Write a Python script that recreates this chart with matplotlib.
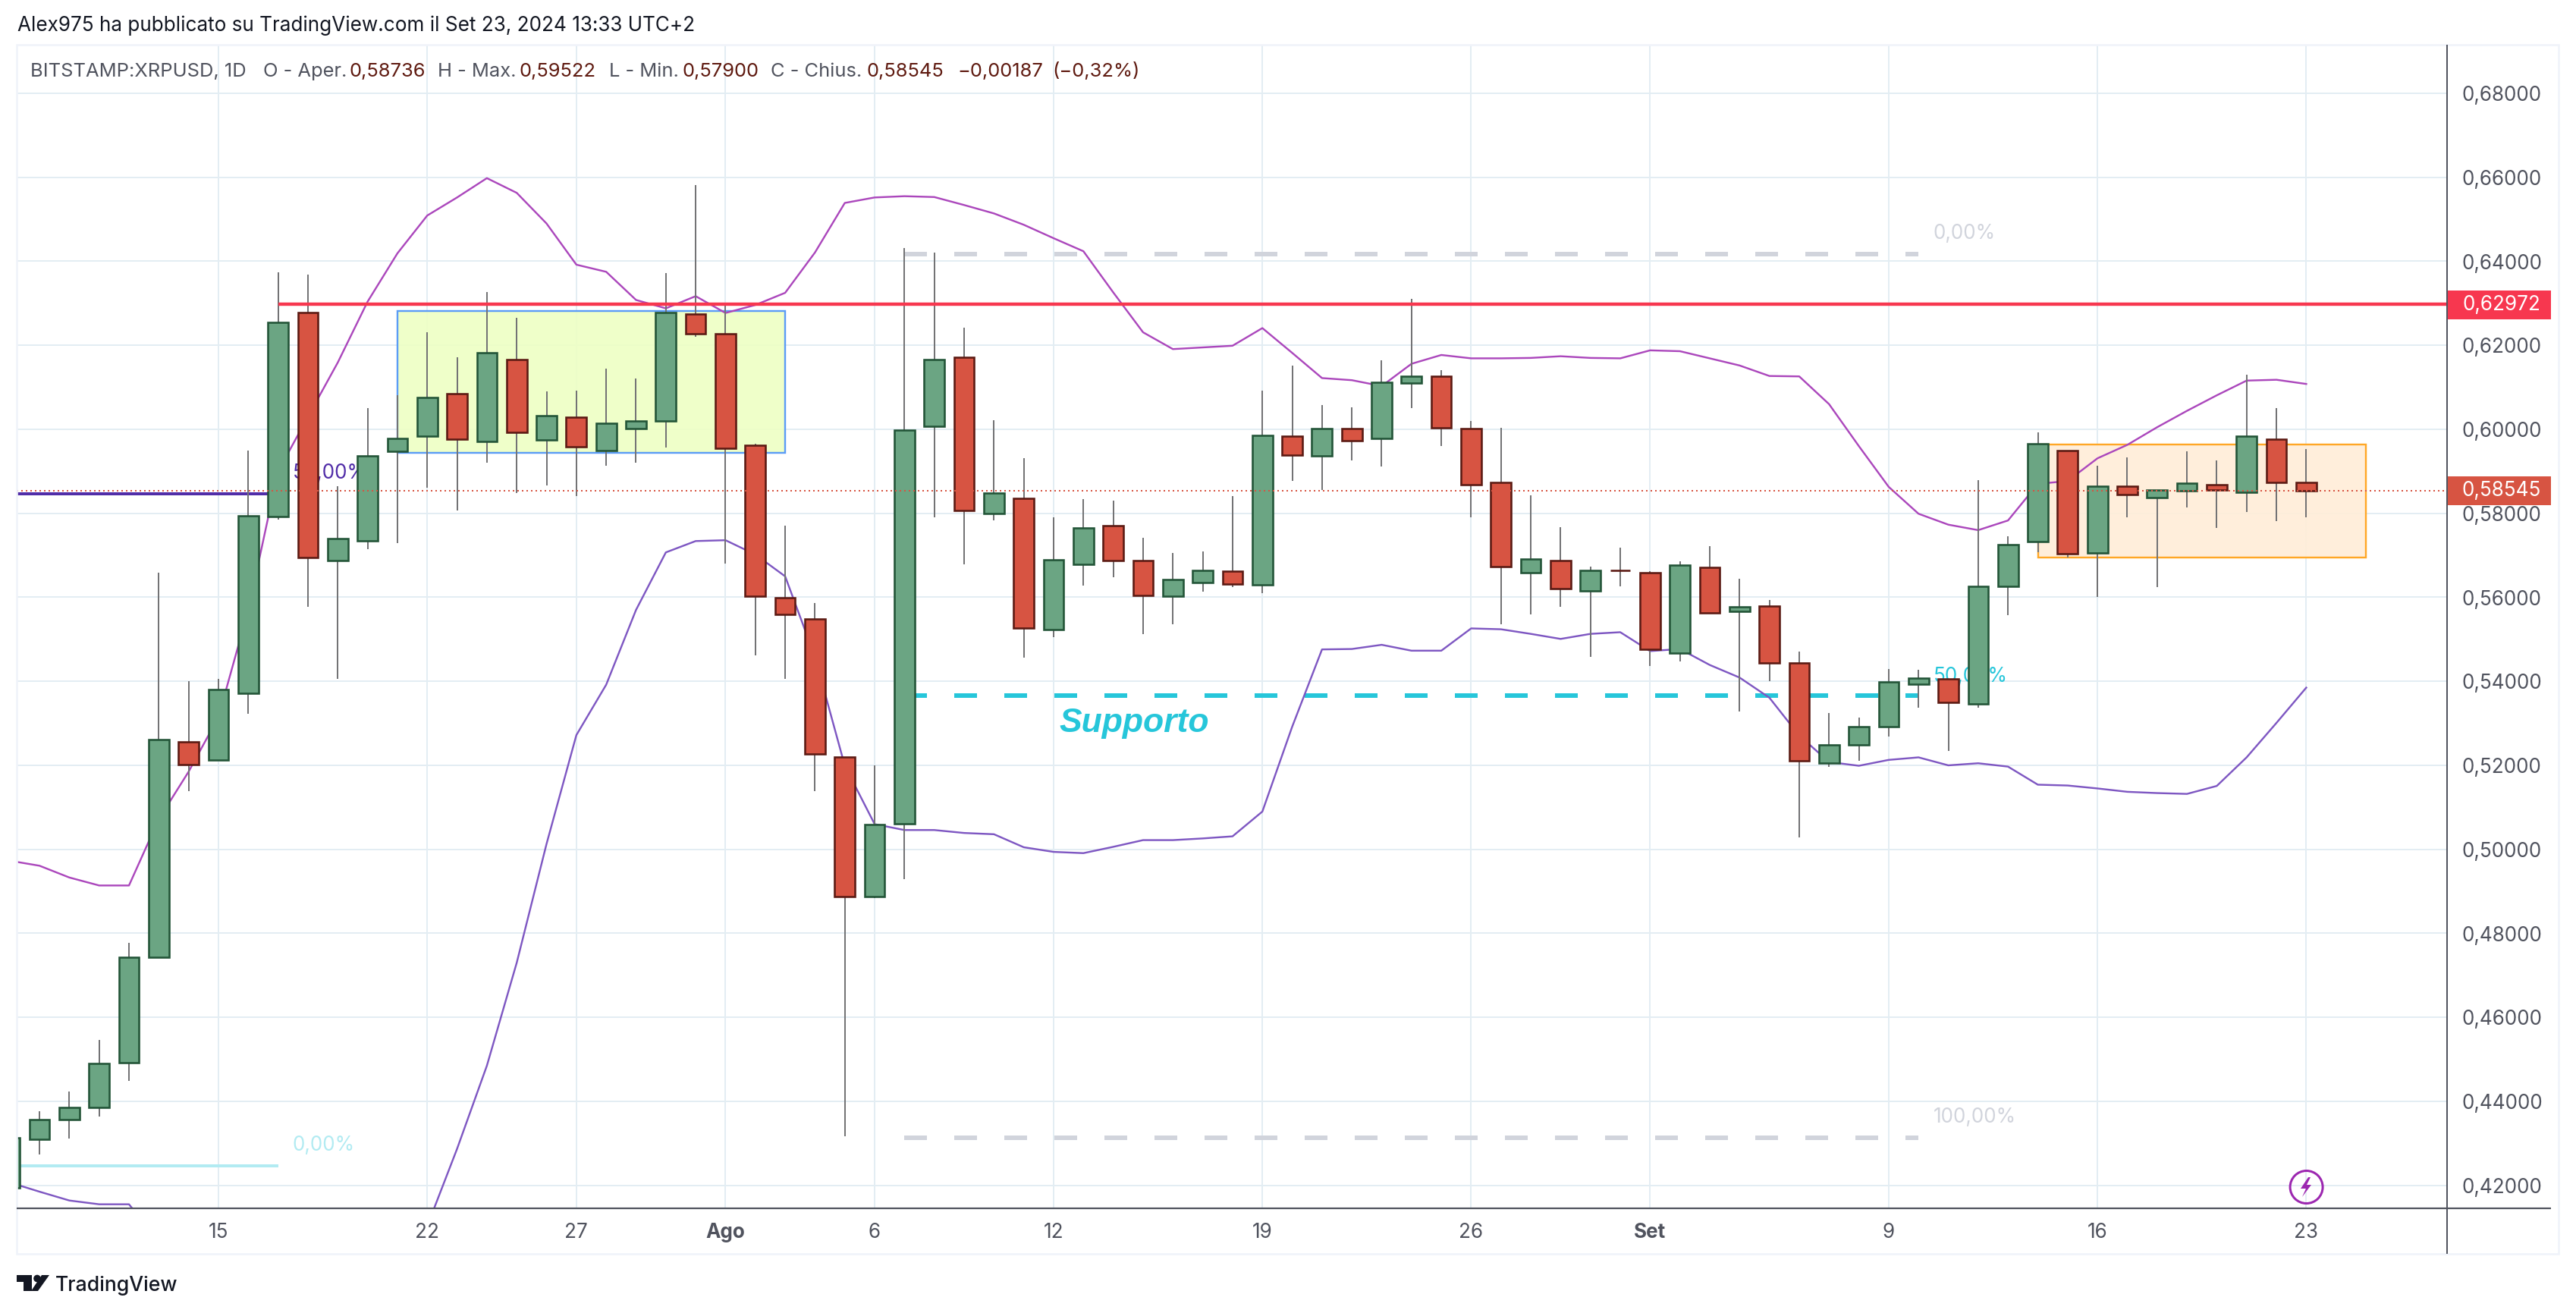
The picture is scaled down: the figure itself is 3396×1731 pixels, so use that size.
import matplotlib
matplotlib.use("Agg")
import matplotlib.pyplot as plt
from matplotlib.patches import Rectangle, Polygon, Circle
from matplotlib.colors import to_rgba
import numpy as np

plt.rcParams['font.family'] = ['Inter', 'DejaVu Sans']

# ---- data -----------------------------------------------------------------
first_day = -7  # 8 July, counted in days from 15 July
opens = [.4195,.4310,.4356,.4385,.4492,.4743,.5256,.5213,.5372,.5792,.6279,.5688,.5734,.5947,.5984,.6085,.5972,.6166,.5975,.6029,.5949,.6002,.6019,.6275,
         .6228,.5962,.5599,.5548,.5219,.4888,.5061,.6008,.6172,.5799,.5836,.5523,.5678,.5770,.5687,.5602,.5635,.5663,.5629,.5984,.5936,.6002,.5978,.6110,.6127,.6001,.5873,.5658,.5687,.5616,.5665,
         .5659,.5468,.5672,.5567,.5579,.5444,.5205,.5249,.5292,.5393,.5405,.5346,.5626,.5732,.5950,.5705,.5865,.5837,.5853,.5868,.5850,.5977,.58736]
highs = [.4314,.4377,.4423,.4546,.4777,.5659,.5401,.5405,.5950,.6374,.6368,.5865,.6050,.6081,.6231,.6171,.6326,.6265,.6090,.6092,.6144,.6121,.6372,.6581,
         .6298,.5965,.5770,.5587,.5219,.5200,.6432,.6421,.6242,.6021,.5931,.5790,.5834,.5830,.5742,.5706,.5709,.5841,.6092,.6151,.6057,.6053,.6164,.6310,.6140,.6019,.6003,.5843,.5767,.5673,.5718,
         .5662,.5686,.5722,.5645,.5594,.5470,.5325,.5314,.5430,.5428,.5405,.5879,.5745,.5992,.5950,.5913,.5933,.5856,.5947,.5926,.6130,.6050,.59522]
lows = [.4195,.4274,.4312,.4364,.4449,.4743,.5138,.5213,.5322,.5786,.5577,.5405,.5714,.5730,.5861,.5807,.5920,.5848,.5866,.5841,.5913,.5920,.5956,.6221,
        .5680,.5461,.5405,.5138,.4317,.4884,.4930,.5790,.5679,.5784,.5456,.5506,.5628,.5647,.5512,.5535,.5614,.5625,.5610,.5877,.5855,.5926,.5912,.6051,.5961,.5790,.5535,.5560,.5578,.5458,.5627,
        .5437,.5448,.5563,.5329,.5400,.5028,.5197,.5210,.5268,.5337,.5234,.5337,.5558,.5707,.5694,.5600,.5790,.5625,.5814,.5765,.5803,.5782,.57900]
closes = [.4314,.4356,.4386,.4491,.4743,.5261,.5202,.5381,.5794,.6254,.5695,.5740,.5937,.5979,.6076,.5977,.6183,.5993,.6033,.5959,.6014,.6020,.6279,.6228,
          .5954,.5603,.5559,.5227,.4888,.5059,.5999,.6167,.5806,.5849,.5527,.5689,.5765,.5687,.5605,.5643,.5665,.5631,.5986,.5938,.6002,.5973,.6112,.6127,.6003,.5868,.5674,.5692,.5620,.5665,.5664,
          .5476,.5676,.5563,.5577,.5444,.5211,.5249,.5293,.5399,.5407,.5350,.5626,.5726,.5965,.5703,.5865,.5844,.5856,.5872,.5855,.5984,.5873,.58545]
upper_band = [.4973,.4961,.4933,.4914,.4914,.5072,.5185,.5315,.5570,.5900,.6030,.6159,.6304,.6419,.6509,.6552,.6598,.6563,.6490,.6392,.6375,.6308,.6288,.6317,
              .6277,.6296,.6325,.6421,.6539,.6552,.6555,.6553,.6534,.6514,.6487,.6455,.6424,.6326,.6231,.6191,.6195,.6199,.6241,.6182,.6122,.6117,.6103,.6156,.6177,.6169,.6169,.6170,.6174,.6170,.6169,
              .6188,.6186,.6169,.6152,.6127,.6126,.6060,.5960,.5863,.5799,.5773,.5760,.5783,.5870,.5877,.5931,.5963,.6005,.6044,.6081,.6116,.6118,.6108]
lower_band = [.4207,.4185,.4164,.4155,.4155,.4067,.39,.375,.36,.35,.345,.35,.365,.388,.4103,.4287,.4485,.4730,.5013,.5272,.5392,.5570,.5707,.5734,
              .5736,.5702,.5650,.5458,.5199,.5060,.5046,.5046,.5039,.5036,.5005,.4994,.4991,.5006,.5022,.5022,.5026,.5031,.5090,.5292,.5476,.5477,.5487,.5473,.5473,.5526,.5524,.5513,.5501,.5513,.5517,
              .5472,.5477,.5439,.5409,.5361,.5271,.5208,.5199,.5213,.5219,.5200,.5205,.5197,.5154,.5152,.5145,.5137,.5134,.5132,.5151,.5219,.5301,.5385]

price_ticks = [.42,.44,.46,.48,.50,.52,.54,.56,.58,.60,.62,.64,.66,.68]
date_ticks = [0,7,12,17,22,28,35,42,48,56,63,70]
date_labels = ['15','22','27','Ago','6','12','19','26','Set','9','16','23']
bold_dates = ['Ago','Set']

last_price = .58545
resistance = .62972
support = .5367
fib_top, fib_bottom = .6418, .4313
fib_purple, fib_pale = .5847, .4247
green_box = (.5944, .6281)
orange_box = (.5694, .5964)

# ---- style ----------------------------------------------------------------
W, H = 3396, 1731
L, R, T, B = 22, 3226, 59, 1592.7
PX_PER_DAY, X0 = 39.32, 288
PX_PER_UNIT, Y68 = 5537.5, 123
C_GRID = '#e3edf3'; C_TXT = '#50535e'; C_VAL = '#5f1a10'
C_UP = '#6ba583'; C_DN = '#d75442'; C_UPE = '#225437'; C_DNE = '#5b1a13'
C_RED = '#f7374f'; C_CY = '#26c6da'
px = 72 / 200  # one pixel in points

fig = plt.figure(figsize=(W/200 + 1e-6, H/200 + 1e-6), dpi=200, facecolor='white')
ax = fig.add_axes([L/W, 1 - B/H, (R-L)/W, (B-T)/H])
ax.set_xlim((L-X0)/PX_PER_DAY, (R-X0)/PX_PER_DAY)
ax.set_ylim(.68-(B-Y68)/PX_PER_UNIT, .68+(Y68-T)/PX_PER_UNIT)

ax.set_yticks(price_ticks)
ax.set_yticklabels([f'{p:.5f}'.replace('.', ',') for p in price_ticks])
ax.yaxis.tick_right()
ax.set_xticks(date_ticks)
ax.set_xticklabels(date_labels)
ax.tick_params(axis='y', length=0, pad=19*px, labelsize=9.4, labelcolor=C_TXT)
ax.tick_params(axis='x', length=0, pad=19*px, labelsize=9.4, labelcolor=C_TXT)
for t in ax.get_xticklabels():
    if t.get_text() in bold_dates:
        t.set_fontweight('bold')
ax.grid(True, color=C_GRID, linewidth=2*px, zorder=0)
ax.set_axisbelow(True)
for s in ax.spines.values():
    s.set_visible(False)

days = np.arange(first_day, first_day + len(opens))
xmin, xmax = ax.get_xlim()

# boxes
def box(x0, x1, yr, face, edge):
    ax.add_patch(Rectangle((x0, yr[0]), x1-x0, yr[1]-yr[0], facecolor=to_rgba(face, .9),
                           edgecolor=edge, linewidth=2.4*px, zorder=1))
box(6, 19, green_box, '#eeffc4', '#5b9cf6')
box(61, 72, orange_box, '#ffedd8', '#ffa726')

# fib levels
for level, colour in [(fib_top, '#d1d4dc'), (fib_bottom, '#d1d4dc'), (support, C_CY)]:
    ax.plot([23, 57], [level]*2, color=colour, lw=6*px, dashes=(5, 6), dash_capstyle='butt', zorder=1.5)
ax.plot([xmin, 2], [fib_purple]*2, color='#512da8', lw=4*px, zorder=1.5, solid_capstyle='butt')
ax.plot([xmin, 2], [fib_pale]*2, color='#b2ebf2', lw=4*px, zorder=1.5, solid_capstyle='butt')
ax.text(2.49, .5895, '50,00%', color='#512da8', fontsize=9.4, va='center', zorder=1.5)
ax.text(2.49, .4295, '0,00%', color='#b2ebf2', fontsize=9.4, va='center', zorder=1.5)
ax.text(57.5, .6466, '0,00%', color='#d1d4dc', fontsize=9.4, va='center', zorder=1.5)
ax.text(57.5, .4362, '100,00%', color='#d1d4dc', fontsize=9.4, va='center', zorder=1.5)
ax.text(57.5, .5411, '50,00%', color=C_CY, fontsize=9.4, va='center', zorder=1.5)
ax.text(28.2, .5300, 'Supporto', color=C_CY, fontsize=16, style='italic', fontweight='bold',
        family='Liberation Sans', va='center', zorder=1.5)

# bands
ax.plot(days, upper_band, color='#ab47bc', lw=2.4*px, zorder=2)
ax.plot(days, lower_band, color='#7e57c2', lw=2.4*px, zorder=2)

# candles
o, h, l, c = map(np.array, (opens, highs, lows, closes))
up = c >= o
ax.vlines(days, l, h, color='#737375', lw=2*px, zorder=3)
ax.bar(days[up], (c-o)[up], bottom=o[up], width=.68, color=C_UP, edgecolor=C_UPE, linewidth=2.6*px, zorder=4)
ax.bar(days[~up], (c-o)[~up], bottom=o[~up], width=.68, color=C_DN, edgecolor=C_DNE, linewidth=2.6*px, zorder=4)

# resistance and last price
ax.plot([2, xmax], [resistance]*2, color=C_RED, lw=4.4*px, zorder=5, solid_capstyle='butt')
ax.axhline(last_price, color=C_DN, lw=2*px, dashes=(1, 2), zorder=5)

# ---- page furniture in pixel coordinates ----------------------------------
ov = fig.add_axes([0, 0, 1, 1], facecolor='none')
ov.set_xlim(0, W); ov.set_ylim(H, 0); ov.axis('off')

ov.add_patch(Rectangle((L, T), 3373-L, 1653-T, fill=False, edgecolor='#f0f3fa', lw=2.6*px))
ov.plot([L, 3363], [B, B], color=C_TXT, lw=2.2*px, solid_capstyle='butt')
ov.plot([R, R], [T, 1653], color=C_TXT, lw=2*px, solid_capstyle='butt')

for (y0, y1, col, label) in [(383, 421, C_RED, '0,62972'), (628, 666, C_DN, '0,58545')]:
    ov.add_patch(Rectangle((R, y0), 3363-R, y1-y0, color=col, lw=0))
    ov.text(3298, (y0+y1)/2, label, color='white', fontsize=9.4, ha='center', va='center')

ov.text(23, 34, 'Alex975 ha pubblicato su TradingView.com il Set 23, 2024 13:33 UTC+2',
        color='#131722', fontsize=9.4, va='center')
legend_parts = [(40, 'BITSTAMP:XRPUSD, 1D', C_TXT), (347, 'O - Aper.', C_TXT), (460, '0,58736', C_VAL),
                (577, 'H - Max.', C_TXT), (684, '0,59522', C_VAL), (803, 'L - Min.', C_TXT), (899, '0,57900', C_VAL),
                (1016, 'C - Chius.', C_TXT), (1142, '0,58545', C_VAL), (1262, '\u22120,00187', C_VAL), (1387, '(\u22120,32%)', C_VAL)]
for x, s, col in legend_parts:
    ov.text(x, 94, s, color=col, fontsize=9.2, va='center')

# lightning mark
ov.add_patch(Circle((3040.6, 1565), 21.5, fill=False, edgecolor='#9c27b0', lw=3*px))
ov.add_patch(Polygon([(3043, 1552), (3033, 1567), (3040, 1567), (3035, 1578), (3047, 1562), (3041, 1562), (3046, 1552)],
                     closed=True, color='#9c27b0', lw=0))

# logo
ov.add_patch(Polygon([(22, 1681), (42, 1681), (42, 1702), (31, 1702), (31, 1690), (22, 1690)], closed=True, color='#131722', lw=0))
ov.add_patch(Circle((49, 1685.5), 4.8, color='#131722', lw=0))
ov.add_patch(Polygon([(55, 1681), (65, 1681), (50, 1702), (41, 1702)], closed=True, color='#131722', lw=0))
ov.text(73, 1695, 'TradingView', color='#131722', fontsize=9.6, va='center', fontweight='medium')

fig.savefig('out.png', dpi=200, facecolor='white')
